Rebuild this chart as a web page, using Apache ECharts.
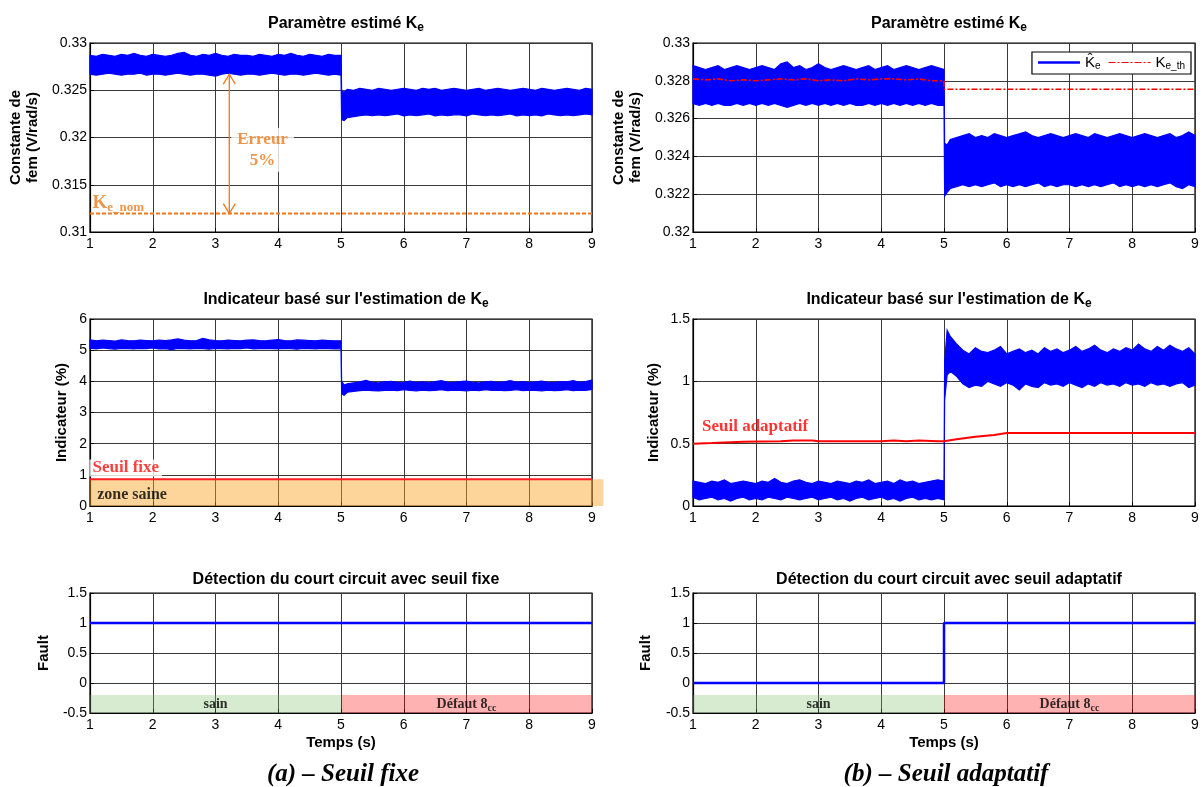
<!DOCTYPE html>
<html><head><meta charset="utf-8">
<script src="https://cdn.jsdelivr.net/npm/echarts@6/dist/echarts.min.js"></script>
<style>html,body{margin:0;padding:0;background:#fff}#c{width:1203px;height:787px}</style>
</head><body><div id="c"></div>
<script>
// ---------- DATA ----------
const xTicks = [1,2,3,4,5,6,7,8,9];
const tPre = [1,1.1,1.2,1.3,1.4,1.5,1.6,1.7,1.8,1.9,2,2.1,2.2,2.3,2.4,2.5,2.6,2.7,2.8,2.9,3,3.1,3.2,3.3,3.4,3.5,3.6,3.7,3.8,3.9,4,4.1,4.2,4.3,4.4,4.5,4.6,4.7,4.8,4.9,5];
const tPost = [5.01,5.05,5.1,5.2,5.3,5.4,5.5,5.6,5.7,5.8,5.9,6,6.1,6.2,6.3,6.4,6.5,6.6,6.7,6.8,6.9,7,7.1,7.2,7.3,7.4,7.5,7.6,7.7,7.8,7.9,8,8.1,8.2,8.3,8.4,8.5,8.6,8.7,8.8,8.9,9];

// (a) Ke estimate envelope (upper / lower of the noisy trace)
const keA_hiPre = [0.3287,0.3286,0.3288,0.3287,0.3286,0.3288,0.3287,0.3289,0.3287,0.3286,0.3288,0.3287,0.3286,0.3287,0.3289,0.3290,0.3287,0.3286,0.3288,0.3287,0.3289,0.3287,0.3286,0.3288,0.3287,0.3287,0.3286,0.3288,0.3287,0.3286,0.3288,0.3287,0.3289,0.3287,0.3286,0.3288,0.3287,0.3286,0.3288,0.3287,0.3287];
const keA_loPre = [0.3267,0.3266,0.3267,0.3268,0.3267,0.3266,0.3267,0.3267,0.3268,0.3266,0.3267,0.3267,0.3266,0.3267,0.3268,0.3267,0.3266,0.3267,0.3267,0.3266,0.3265,0.3267,0.3268,0.3267,0.3266,0.3267,0.3267,0.3266,0.3267,0.3268,0.3267,0.3266,0.3267,0.3267,0.3266,0.3267,0.3268,0.3267,0.3266,0.3267,0.3266];
const keA_hiPost = [0.3249,0.3248,0.3251,0.3250,0.3252,0.3251,0.3250,0.3252,0.3251,0.3250,0.3251,0.3252,0.3251,0.3250,0.3252,0.3251,0.3252,0.3250,0.3251,0.3252,0.3251,0.3250,0.3251,0.3252,0.3250,0.3251,0.3252,0.3251,0.3250,0.3251,0.3252,0.3251,0.3250,0.3252,0.3251,0.3250,0.3251,0.3252,0.3251,0.3250,0.3252,0.3251];
const keA_loPost = [0.3219,0.3218,0.3221,0.3222,0.3223,0.3224,0.3223,0.3224,0.3223,0.3224,0.3225,0.3223,0.3224,0.3223,0.3224,0.3225,0.3223,0.3224,0.3223,0.3224,0.3224,0.3223,0.3225,0.3224,0.3223,0.3224,0.3223,0.3224,0.3225,0.3223,0.3224,0.3223,0.3224,0.3223,0.3225,0.3224,0.3223,0.3224,0.3223,0.3224,0.3225,0.3224];
const keNom = 0.31195;

// (b) Ke estimate envelope
const keB_hiPre = [0.3288,0.3287,0.3286,0.3287,0.3288,0.3286,0.3287,0.3288,0.3287,0.3286,0.3287,0.3288,0.3287,0.3286,0.3289,0.3290,0.3287,0.3288,0.3286,0.3287,0.3289,0.3287,0.3286,0.3287,0.3288,0.3287,0.3286,0.3287,0.3288,0.3286,0.3287,0.3288,0.3286,0.3287,0.3288,0.3287,0.3286,0.3287,0.3288,0.3287,0.3286];
const keB_loPre = [0.3268,0.3267,0.3268,0.3267,0.3268,0.3267,0.3267,0.3268,0.3267,0.3268,0.3267,0.3268,0.3267,0.3268,0.3267,0.3266,0.3267,0.3268,0.3267,0.3268,0.3267,0.3268,0.3267,0.3268,0.3267,0.3268,0.3267,0.3267,0.3268,0.3267,0.3268,0.3267,0.3268,0.3267,0.3268,0.3267,0.3268,0.3267,0.3268,0.3267,0.3267];
const keB_hiPost = [0.3247,0.3246,0.3249,0.3250,0.3251,0.3252,0.3250,0.3251,0.3250,0.3252,0.3251,0.3250,0.3251,0.3252,0.3253,0.3251,0.3250,0.3251,0.3252,0.3251,0.3250,0.3251,0.3252,0.3251,0.3250,0.3252,0.3251,0.3250,0.3251,0.3252,0.3251,0.3250,0.3251,0.3252,0.3251,0.3250,0.3251,0.3252,0.3250,0.3251,0.3253,0.3251];
const keB_loPost = [0.3219,0.3221,0.3223,0.3224,0.3225,0.3224,0.3225,0.3224,0.3225,0.3226,0.3224,0.3225,0.3224,0.3225,0.3224,0.3225,0.3226,0.3224,0.3225,0.3224,0.3225,0.3225,0.3224,0.3225,0.3224,0.3225,0.3224,0.3225,0.3226,0.3224,0.3225,0.3224,0.3225,0.3224,0.3225,0.3224,0.3225,0.3226,0.3224,0.3223,0.3225,0.3224];
const keThT = [1,1.2,1.4,1.6,1.8,2,2.2,2.4,2.6,2.8,3,3.2,3.4,3.6,3.8,4,4.2,4.4,4.6,4.8,5,5,9];
const keThV = [0.3281,0.32805,0.3281,0.3280,0.32805,0.3280,0.32805,0.3281,0.32805,0.3281,0.3280,0.32805,0.3280,0.3281,0.32805,0.3281,0.3281,0.32805,0.3281,0.3280,0.3280,0.32755,0.32755];

// (a) Indicator envelope (%)
const indA_hiPre = [5.33,5.30,5.32,5.31,5.29,5.33,5.31,5.30,5.32,5.31,5.30,5.32,5.31,5.33,5.36,5.32,5.30,5.31,5.38,5.33,5.31,5.30,5.32,5.31,5.30,5.32,5.33,5.31,5.30,5.32,5.34,5.31,5.30,5.33,5.32,5.31,5.30,5.32,5.31,5.30,5.30];
const indA_loPre = [5.06,5.04,5.07,5.05,5.03,5.06,5.05,5.04,5.06,5.05,5.07,5.04,5.05,5.02,5.06,5.05,5.04,5.06,5.05,5.03,5.06,5.05,5.04,5.06,5.05,5.07,5.04,5.05,5.06,5.05,5.04,5.06,5.05,5.03,5.06,5.05,5.04,5.06,5.05,5.04,5.05];
const indA_hiPost = [4.00,3.88,3.92,3.95,3.98,4.03,3.97,3.95,3.98,4.00,3.96,3.97,4.01,3.96,3.98,3.95,3.99,4.02,3.97,3.96,3.99,4.01,3.97,3.95,3.98,4.00,3.96,3.98,4.02,3.97,3.99,3.96,3.98,4.01,3.97,3.96,3.99,3.98,4.02,3.97,3.99,4.04];
const indA_loPost = [3.60,3.55,3.65,3.68,3.70,3.72,3.70,3.69,3.71,3.72,3.70,3.73,3.71,3.69,3.72,3.70,3.71,3.73,3.70,3.72,3.71,3.69,3.72,3.70,3.73,3.71,3.72,3.70,3.71,3.73,3.70,3.72,3.71,3.69,3.72,3.70,3.71,3.73,3.70,3.72,3.71,3.74];
const seuilFixe = 0.86;
const zoneSaineTop = 0.86;

// (b) Indicator envelope (%)
const indB_hiPre = [0.20,0.19,0.18,0.20,0.19,0.21,0.18,0.19,0.20,0.19,0.18,0.20,0.19,0.22,0.19,0.18,0.20,0.21,0.19,0.18,0.20,0.19,0.18,0.20,0.19,0.18,0.20,0.19,0.21,0.18,0.19,0.20,0.18,0.21,0.19,0.20,0.18,0.19,0.20,0.21,0.20];
const indB_loPre = [0.07,0.05,0.06,0.07,0.05,0.06,0.04,0.06,0.07,0.05,0.06,0.05,0.07,0.06,0.05,0.07,0.06,0.05,0.06,0.07,0.05,0.06,0.07,0.05,0.06,0.04,0.06,0.07,0.05,0.06,0.07,0.05,0.06,0.04,0.06,0.07,0.05,0.06,0.05,0.06,0.05];
const indB_hiPost = [1.15,1.41,1.36,1.30,1.25,1.22,1.27,1.24,1.23,1.25,1.28,1.22,1.24,1.26,1.23,1.25,1.22,1.27,1.24,1.26,1.23,1.25,1.28,1.24,1.26,1.29,1.25,1.23,1.26,1.24,1.27,1.25,1.30,1.26,1.24,1.28,1.25,1.29,1.26,1.24,1.27,1.22];
const indB_loPost = [0.85,1.05,1.08,1.04,0.98,0.95,0.97,0.96,1.00,0.98,0.96,0.99,0.97,0.93,0.98,0.96,0.95,0.99,0.97,0.98,0.96,0.99,0.97,0.95,0.98,0.96,0.99,0.97,0.98,0.96,0.99,0.97,0.98,0.96,0.99,0.97,0.98,0.96,0.98,0.99,0.95,0.97];
const seuilAdT = [1,1.3,1.8,2.4,2.6,2.9,3.0,3.5,4.0,4.2,4.4,4.6,4.9,5.0,5.2,5.5,5.8,6.0,9.0];
const seuilAdV = [0.50,0.505,0.515,0.52,0.525,0.525,0.52,0.52,0.52,0.525,0.52,0.525,0.52,0.52,0.535,0.555,0.57,0.585,0.585];

// Fault flags
const faultAT = [1,9];
const faultAV = [1,1];
const faultBT = [1,5,5,9];
const faultBV = [0,0,1,1];
const saneZone = [1,5];
const faultZone = [5,9];
const zoneBandY = [-0.5,-0.2];

// ---------- HELPERS ----------
const tBand = tPre.concat(tPost);
const SANS = 'Liberation Sans, Arial, sans-serif';
const SERIF = 'Liberation Serif, Times New Roman, serif';
const ORANGE = '#EB7A1E';
const pairs = (xs, ys) => xs.map((x, i) => [x, ys[i]]);

function bandSeries(idx, hi, lo) {
  return {
    type: 'custom', xAxisIndex: idx, yAxisIndex: idx, z: 3, silent: true,
    data: [[tBand[0], hi[0]]],
    renderItem: (p, api) => {
      const pts = [];
      for (let i = 0; i < tBand.length; i++) pts.push(api.coord([tBand[i], hi[i]]));
      for (let i = tBand.length - 1; i >= 0; i--) pts.push(api.coord([tBand[i], lo[i]]));
      return { type: 'polygon', shape: { points: pts }, style: { fill: '#0000FF', stroke: '#0000FF', lineWidth: 1.2 } };
    }
  };
}
function rectSeries(idx, x1, x2, y1, y2, color) {
  return {
    type: 'custom', xAxisIndex: idx, yAxisIndex: idx, z: 1, silent: true, clip: false,
    data: [[x1, y1, x2, y2]],
    renderItem: (p, api) => {
      const a = api.coord([api.value(0), api.value(3)]);
      const b = api.coord([api.value(2), api.value(1)]);
      return { type: 'rect', shape: { x: a[0], y: a[1], width: b[0] - a[0], height: b[1] - a[1] }, style: { fill: color } };
    }
  };
}
function textSeries(idx, x, y, text, style) {
  return {
    type: 'scatter', xAxisIndex: idx, yAxisIndex: idx, z: 6, silent: true,
    symbolSize: 1, itemStyle: { color: 'rgba(0,0,0,0)' },
    data: [[x, y]],
    label: Object.assign({ show: true, position: 'inside', formatter: text }, style)
  };
}
const fmt = v => String(parseFloat(v.toFixed(4)));

const grids = [
  { left: 90, width: 502, top: 43, height: 189 },
  { left: 693, width: 502, top: 43, height: 189 },
  { left: 90, width: 502, top: 319, height: 187 },
  { left: 693, width: 502, top: 319, height: 187 },
  { left: 90, width: 502, top: 593, height: 120 },
  { left: 693, width: 502, top: 593, height: 120 }
].map(g => Object.assign({ show: true, borderColor: '#000', borderWidth: 1.2, backgroundColor: '#fff' }, g));

const xAxes = grids.map((g, i) => ({
  type: 'value', gridIndex: i, min: xTicks[0], max: xTicks[xTicks.length - 1], interval: 1,
  axisLine: { show: true, onZero: false, lineStyle: { color: '#000', width: 1.2 } },
  axisTick: { show: true, inside: true, length: 4, lineStyle: { color: '#000' } },
  axisLabel: { color: '#000', fontSize: 14, fontFamily: SANS, margin: 5 },
  splitLine: { show: true, lineStyle: { color: '#3a3a3a', width: 1 } },
  name: i >= 4 ? 'Temps (s)' : '', nameLocation: 'middle', nameGap: 22,
  nameTextStyle: { color: '#000', fontSize: 15, fontWeight: 'bold', fontFamily: SANS }
}));
const yBase = (i, min, max, interval, name, gap) => ({
  type: 'value', gridIndex: i, min, max, interval,
  axisLine: { show: true, onZero: false, lineStyle: { color: '#000', width: 1.2 } },
  axisTick: { show: true, inside: true, length: 4, lineStyle: { color: '#000' } },
  axisLabel: { color: '#000', fontSize: 14, fontFamily: SANS, margin: 3, formatter: fmt },
  splitLine: { show: true, lineStyle: { color: '#3a3a3a', width: 1 } },
  name, nameLocation: 'middle', nameGap: gap,
  nameTextStyle: { color: '#000', fontSize: 15, fontWeight: 'bold', fontFamily: SANS, lineHeight: 17 }
});
const yAxes = [
  yBase(0, 0.31, 0.33, 0.005, 'Constante de\nfem (V/rad/s)', 49),
  yBase(1, 0.32, 0.33, 0.002, 'Constante de\nfem (V/rad/s)', 49),
  yBase(2, 0, 6, 1, 'Indicateur (%)', 20),
  yBase(3, 0, 1.5, 0.5, 'Indicateur (%)', 31),
  yBase(4, -0.5, 1.5, 0.5, 'Fault', 38),
  yBase(5, -0.5, 1.5, 0.5, 'Fault', 39)
];

const titleRich = {
  b: { fontSize: 16, fontWeight: 'bold', fontFamily: SANS, color: '#000' },
  s: { fontSize: 12, fontWeight: 'bold', fontFamily: SANS, color: '#000', padding: [9, 0, 0, 0] }
};
const mkTitle = (text, cx, top) => ({ text, left: cx, top, textAlign: 'center', textStyle: { rich: titleRich } });
const capTitle = (text, cx) => ({ text, left: cx, top: 757, textAlign: 'center',
  textStyle: { fontSize: 25, fontWeight: 'bold', fontStyle: 'italic', fontFamily: SERIF, color: '#000' } });

const annRich = {
  k: { fontSize: 19, fontWeight: 'bold', fontFamily: SERIF, color: ORANGE },
  ks: { fontSize: 13, fontWeight: 'bold', fontFamily: SERIF, color: ORANGE, padding: [9, 0, 0, 0] },
  d: { fontSize: 14, fontWeight: 'bold', fontFamily: SERIF, color: '#000' },
  ds: { fontSize: 10, fontWeight: 'bold', fontFamily: SERIF, color: '#000', padding: [8, 0, 0, 0] }
};

const series = [
  // shaded zones
  rectSeries(2, 1, 9.18, 0, zoneSaineTop, 'rgba(250,160,30,0.45)'),
  rectSeries(4, saneZone[0], saneZone[1], zoneBandY[0], zoneBandY[1], 'rgba(120,190,100,0.3)'),
  rectSeries(4, faultZone[0], faultZone[1], zoneBandY[0], zoneBandY[1], 'rgba(255,0,0,0.3)'),
  rectSeries(5, saneZone[0], saneZone[1], zoneBandY[0], zoneBandY[1], 'rgba(120,190,100,0.3)'),
  rectSeries(5, faultZone[0], faultZone[1], zoneBandY[0], zoneBandY[1], 'rgba(255,0,0,0.3)'),
  // noisy bands
  bandSeries(0, keA_hiPre.concat(keA_hiPost), keA_loPre.concat(keA_loPost)),
  bandSeries(1, keB_hiPre.concat(keB_hiPost), keB_loPre.concat(keB_loPost)),
  bandSeries(2, indA_hiPre.concat(indA_hiPost), indA_loPre.concat(indA_loPost)),
  bandSeries(3, indB_hiPre.concat(indB_hiPost), indB_loPre.concat(indB_loPost)),
  // legend proxy for Ke estimate
  { type: 'line', name: 'Ke_hat', xAxisIndex: 1, yAxisIndex: 1, data: [], symbol: 'none',
    lineStyle: { color: '#0000FF', width: 2 }, itemStyle: { color: '#0000FF' } },
  { type: 'line', name: 'Ke_th', xAxisIndex: 1, yAxisIndex: 1, z: 4, data: pairs(keThT, keThV), symbol: 'none',
    lineStyle: { color: '#FF0000', width: 1.6, type: [6, 2, 2, 2] }, itemStyle: { color: '#FF0000' } },
  // Ke nominal
  { type: 'line', xAxisIndex: 0, yAxisIndex: 0, z: 4, data: [[1, keNom], [9, keNom]], symbol: 'none',
    lineStyle: { color: ORANGE, width: 2, type: [4, 2] } },
  // thresholds
  { type: 'line', xAxisIndex: 2, yAxisIndex: 2, z: 4, data: [[1, seuilFixe], [9, seuilFixe]], symbol: 'none',
    lineStyle: { color: '#FF2020', width: 2 } },
  { type: 'line', xAxisIndex: 3, yAxisIndex: 3, z: 4, data: pairs(seuilAdT, seuilAdV), symbol: 'none',
    lineStyle: { color: '#FF0000', width: 2 } },
  // fault flags
  { type: 'line', xAxisIndex: 4, yAxisIndex: 4, z: 4, data: pairs(faultAT, faultAV), symbol: 'none',
    lineStyle: { color: '#0000FF', width: 2.5 } },
  { type: 'line', xAxisIndex: 5, yAxisIndex: 5, z: 4, data: pairs(faultBT, faultBV), symbol: 'none',
    lineStyle: { color: '#0000FF', width: 2.5 } },
  // double arrow (error 5%)
  { type: 'custom', xAxisIndex: 0, yAxisIndex: 0, z: 5, silent: true,
    data: [[3.22, 0.3267, keNom]],
    renderItem: (p, api) => {
      const a = api.coord([api.value(0), api.value(1)]);
      const b = api.coord([api.value(0), api.value(2)]);
      const st = { stroke: ORANGE, lineWidth: 1.3, fill: null };
      return { type: 'group', children: [
        { type: 'line', shape: { x1: a[0], y1: a[1], x2: b[0], y2: b[1] }, style: st },
        { type: 'polyline', shape: { points: [[a[0] - 6, a[1] + 10], [a[0], a[1]], [a[0] + 6, a[1] + 10]] }, style: st },
        { type: 'polyline', shape: { points: [[b[0] - 6, b[1] - 10], [b[0], b[1]], [b[0] + 6, b[1] - 10]] }, style: st }
      ] };
    }
  },
  // annotations
  textSeries(0, 3.75, 0.3187, 'Erreur\n5%', { color: ORANGE, fontSize: 17, fontWeight: 'bold', fontFamily: SERIF,
    lineHeight: 21, backgroundColor: '#fff', padding: [1, 6, 1, 6] }),
  textSeries(0, 1.45, 0.3131, '{k|K}{ks|e_nom}', { rich: annRich }),
  textSeries(2, 1.57, 1.22, 'Seuil fixe', { color: '#FF1010', fontSize: 17, fontWeight: 'bold', fontFamily: SERIF,
    backgroundColor: '#fff', padding: [0, 3, 0, 3] }),
  textSeries(2, 1.67, 0.35, 'zone saine', { color: '#000', fontSize: 16, fontWeight: 'bold', fontFamily: SERIF }),
  textSeries(3, 1.99, 0.636, 'Seuil adaptatif', { color: '#FF0000', fontSize: 17, fontWeight: 'bold', fontFamily: SERIF }),
  textSeries(4, 3.0, -0.355, 'sain', { color: '#000', fontSize: 14, fontWeight: 'bold', fontFamily: SERIF }),
  textSeries(4, 7.0, -0.355, '{d|Défaut 8}{ds|cc}', { rich: annRich }),
  textSeries(5, 3.0, -0.355, 'sain', { color: '#000', fontSize: 14, fontWeight: 'bold', fontFamily: SERIF }),
  textSeries(5, 7.0, -0.355, '{d|Défaut 8}{ds|cc}', { rich: annRich })
];

const dashDotIcon = 'path://M0,0H7V1H0ZM9,0H11V1H9ZM13,0H20V1H13ZM22,0H24V1H22ZM26,0H33V1H26ZM35,0H37V1H35ZM39,0H42V1H39Z';

const option = {
  animation: false,
  backgroundColor: '#fff',
  title: [
    mkTitle('{b|Paramètre estimé K}{s|e}', 341, 8),
    mkTitle('{b|Paramètre estimé K}{s|e}', 944, 8),
    mkTitle('{b|Indicateur basé sur l\'estimation de K}{s|e}', 341, 284),
    mkTitle('{b|Indicateur basé sur l\'estimation de K}{s|e}', 944, 284),
    mkTitle('{b|Détection du court circuit avec seuil fixe}', 341, 567),
    mkTitle('{b|Détection du court circuit avec seuil adaptatif}', 944, 567),
    capTitle('(a) – Seuil fixe', 338),
    capTitle('(b) – Seuil adaptatif', 941)
  ],
  legend: {
    data: [{ name: 'Ke_hat', icon: 'rect' }, { name: 'Ke_th', icon: dashDotIcon }],
    right: 12, top: 52, orient: 'horizontal',
    backgroundColor: '#fff', borderColor: '#000', borderWidth: 1.2, borderRadius: 0,
    padding: [3, 6, 3, 6], itemGap: 8, itemWidth: 42, itemHeight: 2.5,
    formatter: n => n === 'Ke_hat' ? '{k|K\u0302}{s|e}' : '{k|K}{s|e_th}',
    textStyle: { rich: {
      k: { fontSize: 15, fontFamily: SANS, color: '#000' },
      s: { fontSize: 10, fontFamily: SANS, color: '#000', padding: [7, 0, 0, 0] }
    } }
  },
  grid: grids, xAxis: xAxes, yAxis: yAxes, series
};
const chart = echarts.init(document.getElementById('c'), null, { renderer: 'canvas' });
chart.setOption(option);
</script></body></html>
